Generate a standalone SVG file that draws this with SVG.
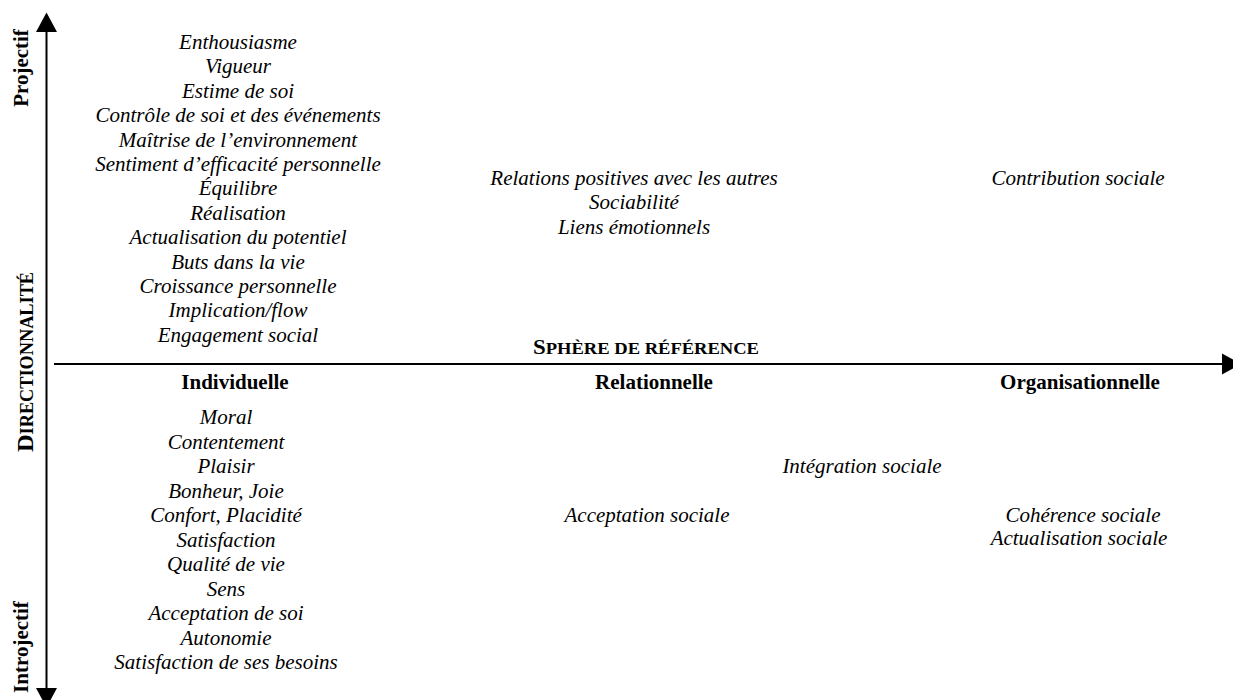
<svg xmlns="http://www.w3.org/2000/svg" width="1233" height="700" viewBox="0 0 1233 700">
<defs>
<style>
text{font-family:"Liberation Serif","Times New Roman",serif;font-size:21px;fill:#000;text-anchor:middle}
.it{font-style:italic}
.b{font-weight:bold}
.axis{stroke:#000;stroke-width:2;fill:none}
</style>
<marker id="ah" markerUnits="userSpaceOnUse" viewBox="0 -11 20 22" markerWidth="20" markerHeight="22" refX="0" refY="0" orient="auto-start-reverse">
<path d="M0,-10.5 L19.5,0 L0,10.5 Z" fill="#000"/>
</marker>
</defs>
<rect width="1233" height="700" fill="#fff"/>
<g id="connectors">
<line class="axis" x1="46.5" y1="32" x2="46.5" y2="688" marker-start="url(#ah)" marker-end="url(#ah)"/>
<line class="axis" x1="54" y1="364" x2="1222" y2="364" marker-end="url(#ah)"/>
</g>
<g id="axis-labels">
<text class="b" transform="translate(28,68) rotate(-90)">Projectif</text>
<text class="b" transform="translate(28,647) rotate(-90)">Introjectif</text>
<text class="b" transform="translate(33,362) rotate(-90)" textLength="180" lengthAdjust="spacingAndGlyphs"><tspan font-size="24">D</tspan><tspan font-size="18">IRECTIONNALITÉ</tspan></text>
<text class="b" x="646" y="354" textLength="226" lengthAdjust="spacingAndGlyphs"><tspan font-size="21">S</tspan><tspan font-size="17">PHÈRE DE RÉFÉRENCE</tspan></text>
</g>
<g id="individuelle-projectif" class="it">
<text class="it" x="238" y="49">Enthousiasme</text>
<text class="it" x="238" y="73.4">Vigueur</text>
<text class="it" x="238" y="97.8">Estime de soi</text>
<text class="it" x="238" y="122.2">Contrôle de soi et des événements</text>
<text class="it" x="238" y="146.6">Maîtrise de l’environnement</text>
<text class="it" x="238" y="171">Sentiment d’efficacité personnelle</text>
<text class="it" x="238" y="195.4">Équilibre</text>
<text class="it" x="238" y="219.8">Réalisation</text>
<text class="it" x="238" y="244.2">Actualisation du potentiel</text>
<text class="it" x="238" y="268.6">Buts dans la vie</text>
<text class="it" x="238" y="293">Croissance personnelle</text>
<text class="it" x="238" y="317.4">Implication/flow</text>
<text class="it" x="238" y="341.8">Engagement social</text>
</g>
<g id="relationnelle-projectif">
<text class="it" x="634" y="185">Relations positives avec les autres</text>
<text class="it" x="634" y="209.4">Sociabilité</text>
<text class="it" x="634" y="233.8">Liens émotionnels</text>
</g>
<g id="organisationnelle-projectif">
<text class="it" x="1078" y="185">Contribution sociale</text>
</g>
<g id="categories">
<text class="b" x="235" y="389">Individuelle</text>
<text class="b" x="654" y="389">Relationnelle</text>
<text class="b" x="1080" y="389">Organisationnelle</text>
</g>
<g id="individuelle-introjectif">
<text class="it" x="226" y="424">Moral</text>
<text class="it" x="226" y="448.5">Contentement</text>
<text class="it" x="226" y="473">Plaisir</text>
<text class="it" x="226" y="497.5">Bonheur, Joie</text>
<text class="it" x="226" y="522">Confort, Placidité</text>
<text class="it" x="226" y="546.5">Satisfaction</text>
<text class="it" x="226" y="571">Qualité de vie</text>
<text class="it" x="226" y="595.5">Sens</text>
<text class="it" x="226" y="620">Acceptation de soi</text>
<text class="it" x="226" y="644.5">Autonomie</text>
<text class="it" x="226" y="669">Satisfaction de ses besoins</text>
</g>
<g id="relationnelle-introjectif">
<text class="it" x="862" y="473">Intégration sociale</text>
<text class="it" x="647" y="522">Acceptation sociale</text>
</g>
<g id="organisationnelle-introjectif">
<text class="it" x="1083" y="522">Cohérence sociale</text>
<text class="it" x="1079" y="545">Actualisation sociale</text>
</g>
</svg>
